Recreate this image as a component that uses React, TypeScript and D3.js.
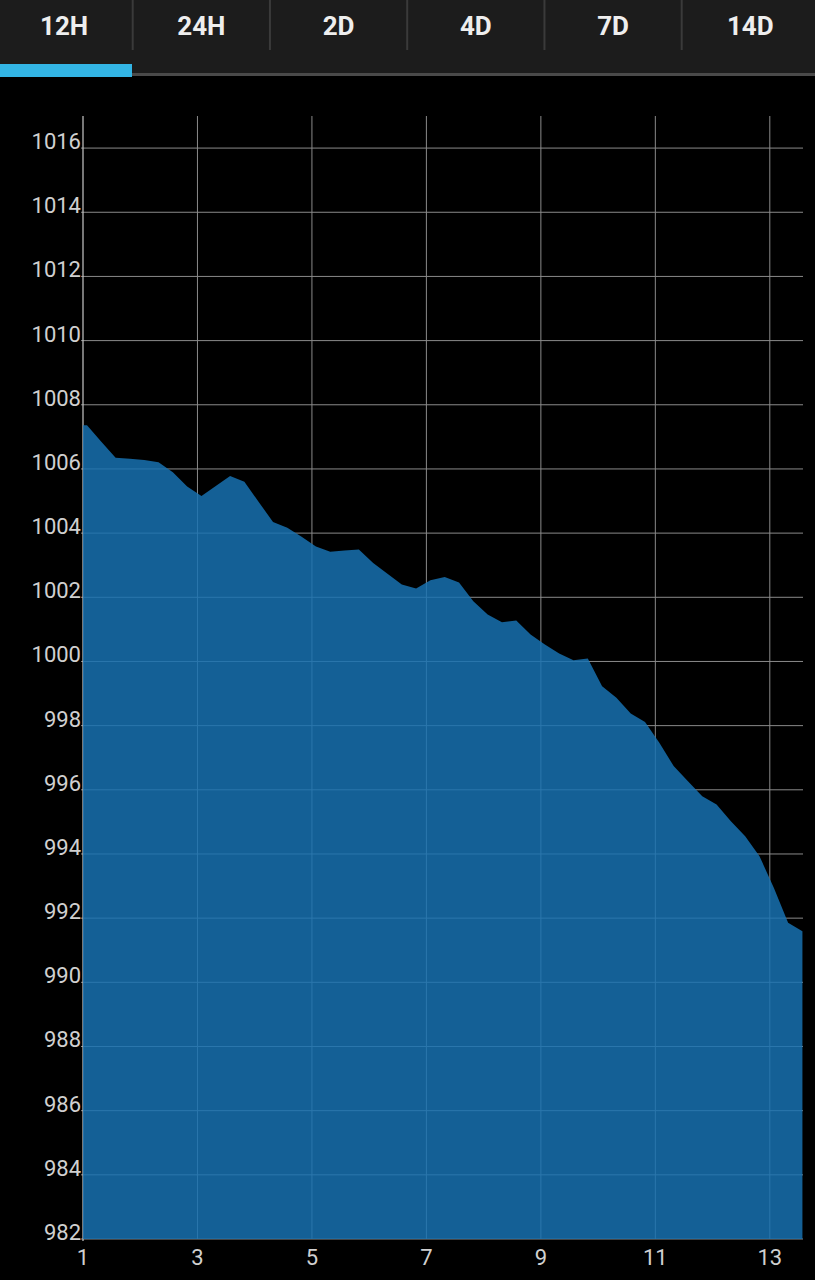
import React from "react";
import * as d3 from "d3";

const tabs = ["12H", "24H", "2D", "4D", "7D", "14D"];
const xTicks = [1, 3, 5, 7, 9, 11, 13];
const yTicks = [982, 984, 986, 988, 990, 992, 994, 996, 998, 1000, 1002, 1004, 1006, 1008, 1010, 1012, 1014, 1016];

const times = [
  1.0, 1.07, 1.32, 1.57, 1.82, 2.07, 2.32, 2.57, 2.82, 3.07, 3.32, 3.57, 3.82, 4.07, 4.32, 4.57,
  4.82, 5.07, 5.32, 5.57, 5.82, 6.07, 6.32, 6.57, 6.82, 7.07, 7.32, 7.57, 7.82, 8.07, 8.32, 8.57,
  8.82, 9.07, 9.32, 9.57, 9.82, 10.07, 10.32, 10.57, 10.82, 11.07, 11.32, 11.57, 11.82, 12.07,
  12.32, 12.57, 12.82, 13.07, 13.32, 13.57,
];
const pressure = [
  1007.36, 1007.36, 1006.85, 1006.35, 1006.32, 1006.28, 1006.21, 1005.9, 1005.45, 1005.16, 1005.47,
  1005.78, 1005.6, 1004.97, 1004.35, 1004.17, 1003.89, 1003.58, 1003.42, 1003.46, 1003.49, 1003.07,
  1002.73, 1002.4, 1002.27, 1002.53, 1002.63, 1002.46, 1001.88, 1001.46, 1001.22, 1001.28, 1000.84,
  1000.53, 1000.25, 1000.04, 1000.09, 999.23, 998.87, 998.38, 998.11, 997.47, 996.74, 996.27, 995.8,
  995.54, 995.02, 994.55, 993.93, 992.95, 991.86, 991.59,
];

const W = 815;
const H = 1280;
const left = 83;
const right = 803;
const top = 116;
const bottom = 1239;

export default function App() {
  const x = d3.scaleLinear().domain([1, 13.58]).range([left, right]);
  const y = d3.scaleLinear().domain([982, 1017]).range([bottom, top]);
  const data = times.map((t, i) => ({ t, v: pressure[i] }));
  const area = d3
    .area<{ t: number; v: number }>()
    .x((d) => x(d.t))
    .y0(bottom)
    .y1((d) => y(d.v));

  const tabW = 137.25;
  const tabStart = 132.7 - tabW;

  return (
    <svg
      width={W}
      height={H}
      style={{ position: "absolute", left: 0, top: 0, display: "block" }}
      fontFamily="Roboto, sans-serif"
    >
      <rect x={0} y={0} width={W} height={H} fill="#000" />
      {/* tab bar */}
      <rect x={0} y={0} width={W} height={74} fill="#1c1c1c" />
      <rect x={0} y={73} width={W} height={3} fill="#4a4a4a" />
      <rect x={0} y={64} width={132} height={13} fill="#33b5e5" />
      {tabs.map((t, i) => (
        <g key={t}>
          {i > 0 && (
            <rect x={tabStart + tabW * i - 1} y={0} width={2} height={50} fill="#3a3a3a" />
          )}
          <text
            x={tabStart + tabW * i + tabW / 2}
            y={35}
            textAnchor="middle"
            fontSize={26}
            fontWeight="bold"
            fill="#eeeeee"
          >
            {t}
          </text>
        </g>
      ))}

      {/* grid */}
      {yTicks.map((v) => (
        <line key={"h" + v} x1={left - 2} x2={right} y1={y(v)} y2={y(v)} stroke="#8a8a8a" strokeWidth={1} />
      ))}
      {xTicks.slice(1).map((v) => (
        <line key={"v" + v} x1={x(v)} x2={x(v)} y1={top} y2={bottom} stroke="#8a8a8a" strokeWidth={1} />
      ))}
      <line x1={left} x2={left} y1={top} y2={bottom + 2} stroke="#c8c8c8" strokeWidth={1.2} />

      {/* area */}
      <path d={area(data) || ""} fill="#1872b3" fillOpacity={0.84} />

      {/* labels */}
      {yTicks.map((v) => (
        <text key={"yl" + v} x={left - 2} y={y(v) + 1} textAnchor="end" fontSize={22} fill="#d0d0d0">
          {v}
        </text>
      ))}
      {xTicks.map((v) => (
        <text key={"xl" + v} x={x(v)} y={1265} textAnchor="middle" fontSize={22} fill="#d0d0d0">
          {v}
        </text>
      ))}
    </svg>
  );
}
